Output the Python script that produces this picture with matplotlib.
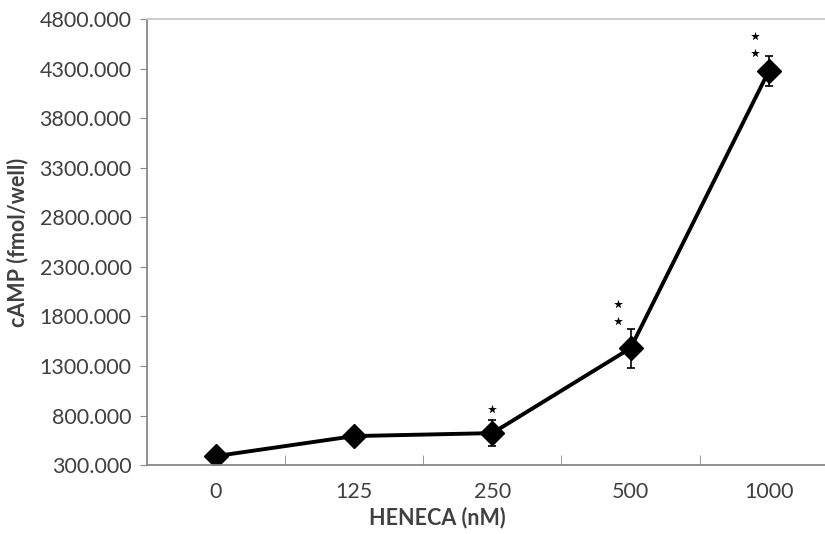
import numpy as np
import matplotlib.pyplot as plt

# data
doses = ['0', '125', '250', '500', '1000']
camp = [391, 593, 623, 1480, 4276]
camp_err = [30, 70, 131, 197, 151]

# significance stars (x in category index, y in fmol/well)
star_x = [2.0, 2.91, 2.91, 3.9, 3.9]
star_y = [869, 1926, 1753, 4628, 4455]

yticks = np.arange(300, 4801, 500)

plt.rcParams['font.family'] = ['Lato', 'DejaVu Sans']

fig = plt.figure(figsize=(8.25, 5.34), dpi=100)
ax = fig.add_axes([0.178, 0.129, 691 / 825, 0.835])

x = np.arange(len(doses))
ax.errorbar(x, camp, yerr=camp_err, color='black', lw=2.8, marker='D',
            ms=12, capsize=3, elinewidth=1.2, capthick=1.2)
ax.scatter(star_x, star_y, marker='*', s=45, color='black', lw=0)

ax.set_xlim(-0.5, 4.5)
ax.set_ylim(300, 4800)
ax.set_yticks(yticks)
ax.set_yticklabels(['%.3f' % v for v in yticks])
ax.set_xticks(x)
ax.set_xticklabels(doses)
ax.set_xticks(x[:-1] + 0.5, minor=True)
ax.tick_params(axis='x', which='major', length=0, pad=12)
ax.tick_params(axis='x', which='minor', direction='in', length=7, color='#888888')
ax.tick_params(axis='y', direction='out', length=5, color='#888888', pad=6)
ax.tick_params(labelsize=15.5, labelcolor='#404040')

ax.spines['right'].set_visible(False)
ax.spines['top'].set_color('#c8c8c8')
ax.spines['left'].set_color('#888888')
ax.spines['bottom'].set_color('#888888')
for s in ax.spines.values():
    s.set_linewidth(1.3)

ax.set_xlabel('HENECA (nM)', fontsize=15.5, fontweight='bold', color='#404040')
ax.xaxis.set_label_coords(0.42, -0.093)
ax.set_ylabel('cAMP (fmol/well)', fontsize=15.5, fontweight='bold', color='#404040', labelpad=8)

fig.savefig('out.png', dpi=100)
